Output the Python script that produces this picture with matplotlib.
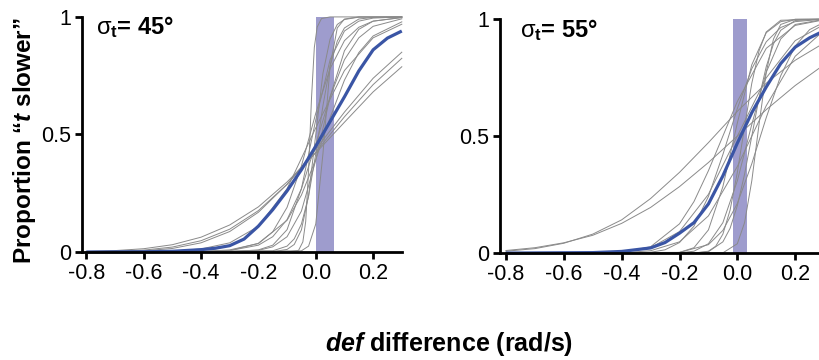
import matplotlib
matplotlib.use("Agg")
import matplotlib.pyplot as plt
from matplotlib.ticker import FixedLocator, FixedFormatter

plt.rcParams['font.family'] = ['Liberation Sans', 'DejaVu Sans']
plt.rcParams['mathtext.fontset'] = 'custom'
plt.rcParams['mathtext.rm'] = 'Liberation Sans'
plt.rcParams['mathtext.bf'] = 'Liberation Sans:bold'
plt.rcParams['mathtext.it'] = 'Liberation Sans:italic:bold'

# ── data ────────────────────────────────────────────────────────────────────
xticks = [-0.8, -0.6, -0.4, -0.2, 0.0, 0.2]
xticklabels = ['-0.8', '-0.6', '-0.4', '-0.2', '0.0', '0.2']
yticks = [0, 0.5, 1]
yticklabels = ['0', '0.5', '1']
titles = ['45°', '55°']
bands = [(0.0, 0.065), (-0.015, 0.035)]

# panel 1 (sigma_t = 45 deg): individual observers
p1_g1_x = [-0.8, -0.1, -0.06, -0.045, -0.035, -0.025, -0.015, -0.005, 0.005, 0.02, 0.05, 0.3]
p1_g1_y = [0, 0, 0.007, 0.043, 0.13, 0.35, 0.65, 0.87, 0.957, 0.993, 1.0, 1.0]
p1_g2_x = [-0.8, -0.15, -0.1, -0.075, -0.05, -0.025, 0, 0.025, 0.05, 0.075, 0.1, 0.15, 0.3]
p1_g2_y = [0, 0.001, 0.011, 0.032, 0.094, 0.24, 0.5, 0.76, 0.906, 0.968, 0.989, 0.999, 1.0]
p1_g3_x = [-0.8, -0.15, -0.1, -0.075, -0.05, -0.025, 0, 0.025, 0.05, 0.075, 0.1, 0.15, 0.2, 0.3]
p1_g3_y = [0, 0.005, 0.025, 0.056, 0.119, 0.237, 0.417, 0.622, 0.791, 0.897, 0.953, 0.991, 0.998, 1.0]
p1_g4_x = [-0.8, -0.3, -0.2, -0.15, -0.1, -0.05, 0, 0.05, 0.1, 0.15, 0.2, 0.3]
p1_g4_y = [0, 0.001, 0.009, 0.029, 0.095, 0.269, 0.562, 0.818, 0.94, 0.982, 0.995, 1.0]
p1_g5_x = [-0.8, -0.3, -0.2, -0.15, -0.1, -0.05, 0, 0.05, 0.1, 0.15, 0.2, 0.3]
p1_g5_y = [0, 0.001, 0.007, 0.022, 0.065, 0.174, 0.39, 0.66, 0.856, 0.947, 0.982, 0.998]
p1_g6_x = [-0.8, -0.4, -0.3, -0.2, -0.15, -0.1, -0.05, 0, 0.05, 0.1, 0.15, 0.2, 0.3]
p1_g6_y = [0, 0.001, 0.006, 0.037, 0.086, 0.19, 0.366, 0.59, 0.78, 0.899, 0.956, 0.982, 0.997]
p1_g7_x = [-0.8, -0.4, -0.3, -0.2, -0.15, -0.1, -0.05, 0, 0.05, 0.1, 0.15, 0.2, 0.3]
p1_g7_y = [0, 0.001, 0.006, 0.029, 0.065, 0.138, 0.269, 0.459, 0.66, 0.818, 0.911, 0.96, 0.992]
p1_g8_x = [-0.8, -0.5, -0.4, -0.3, -0.2, -0.1, -0.05, 0, 0.05, 0.1, 0.15, 0.2, 0.3]
p1_g8_y = [0, 0.0005, 0.002, 0.009, 0.036, 0.135, 0.242, 0.394, 0.571, 0.731, 0.848, 0.919, 0.979]
p1_g9_x = [-0.8, -0.7, -0.6, -0.5, -0.4, -0.3, -0.2, -0.1, 0, 0.1, 0.2, 0.3]
p1_g9_y = [0.0004, 0.0015, 0.005, 0.015, 0.039, 0.087, 0.169, 0.288, 0.436, 0.595, 0.739, 0.85]
p1_g10_x = [-0.8, -0.7, -0.6, -0.5, -0.4, -0.3, -0.2, -0.1, 0, 0.1, 0.2, 0.3]
p1_g10_y = [0.001, 0.003, 0.008, 0.021, 0.048, 0.097, 0.176, 0.288, 0.425, 0.575, 0.712, 0.824]
p1_g11_x = [-0.8, -0.7, -0.6, -0.5, -0.4, -0.3, -0.2, -0.1, 0, 0.1, 0.2, 0.3]
p1_g11_y = [0.002, 0.006, 0.014, 0.031, 0.063, 0.115, 0.192, 0.298, 0.421, 0.552, 0.681, 0.788]
p1_g12_x = [-0.8, -0.6, -0.5, -0.4, -0.3, -0.2, -0.1, 0, 0.1, 0.2, 0.3]
p1_g12_y = [0, 0.001, 0.004, 0.013, 0.039, 0.109, 0.269, 0.528, 0.772, 0.911, 0.969]
p1_g13_x = [-0.8, -0.05, -0.025, 0, 0.025, 0.05, 0.075, 0.1, 0.15, 0.3]
p1_g13_y = [0, 0.005, 0.025, 0.119, 0.417, 0.791, 0.953, 0.991, 1.0, 1.0]
# panel 1 group mean
p1_mean_x = [-0.8, -0.6, -0.5, -0.4, -0.35, -0.3, -0.25, -0.2, -0.15, -0.1, -0.05, 0, 0.05, 0.1, 0.15, 0.2, 0.25, 0.3]
p1_mean_y = [0, 0.001, 0.003, 0.01, 0.016, 0.027, 0.055, 0.11, 0.18, 0.26, 0.35, 0.45, 0.555, 0.66, 0.77, 0.86, 0.91, 0.94]

# panel 2 (sigma_t = 55 deg): individual observers
p2_g1_x = [-0.8, -0.7, -0.6, -0.5, -0.4, -0.3, -0.2, -0.1, 0, 0.1, 0.2, 0.3]
p2_g1_y = [0.008, 0.019, 0.042, 0.081, 0.142, 0.233, 0.345, 0.472, 0.606, 0.726, 0.824, 0.898]
p2_g2_x = [-0.8, -0.7, -0.6, -0.5, -0.4, -0.3, -0.2, -0.1, 0, 0.1, 0.2, 0.3]
p2_g2_y = [0.011, 0.023, 0.044, 0.076, 0.127, 0.195, 0.284, 0.387, 0.5, 0.613, 0.716, 0.805]
p2_g3_x = [-0.8, -0.5, -0.4, -0.3, -0.2, -0.1, 0, 0.1, 0.2, 0.3]
p2_g3_y = [0, 0.0004, 0.004, 0.023, 0.092, 0.251, 0.5, 0.749, 0.908, 0.977]
p2_g4_x = [-0.8, -0.4, -0.3, -0.2, -0.1, 0, 0.1, 0.2, 0.3]
p2_g4_y = [0, 0.001, 0.01, 0.048, 0.159, 0.37, 0.63, 0.841, 0.952]
p2_g5_x = [-0.8, -0.4, -0.3, -0.25, -0.2, -0.15, -0.1, -0.05, 0, 0.05, 0.1, 0.15, 0.2, 0.3]
p2_g5_y = [0, 0, 0.0035, 0.014, 0.045, 0.115, 0.242, 0.421, 0.618, 0.788, 0.903, 0.964, 0.989, 1.0]
p2_g6_x = [-0.8, -0.15, -0.1, -0.05, -0.025, 0, 0.025, 0.05, 0.075, 0.1, 0.125, 0.15, 0.2, 0.3]
p2_g6_y = [0, 0.0004, 0.006, 0.048, 0.106, 0.203, 0.337, 0.5, 0.663, 0.797, 0.894, 0.952, 0.994, 1.0]
p2_g7_x = [-0.8, -0.15, -0.1, -0.075, -0.05, -0.025, 0, 0.025, 0.05, 0.075, 0.1, 0.15, 0.3]
p2_g7_y = [0, 0, 0.008, 0.029, 0.081, 0.184, 0.345, 0.54, 0.726, 0.864, 0.945, 0.995, 1.0]
p2_g8_x = [-0.8, -0.05, 0, 0.025, 0.05, 0.075, 0.1, 0.125, 0.15, 0.2, 0.3]
p2_g8_y = [0, 0.001, 0.04, 0.13, 0.309, 0.55, 0.773, 0.915, 0.977, 0.999, 1.0]
p2_g9_x = [-0.8, -0.25, -0.2, -0.15, -0.1, -0.05, 0, 0.05, 0.1, 0.15, 0.2, 0.3]
p2_g9_y = [0, 0, 0.003, 0.023, 0.099, 0.284, 0.556, 0.805, 0.942, 0.989, 0.999, 1.0]
p2_g10_x = [-0.8, -0.2, -0.15, -0.1, -0.05, 0, 0.05, 0.1, 0.15, 0.2, 0.3]
p2_g10_y = [0, 0.001, 0.008, 0.04, 0.13, 0.309, 0.55, 0.773, 0.915, 0.977, 0.999]
p2_g11_x = [-0.8, -0.2, -0.1, -0.05, 0, 0.05, 0.1, 0.15, 0.2, 0.25, 0.3]
p2_g11_y = [0, 0.003, 0.036, 0.097, 0.212, 0.382, 0.579, 0.758, 0.885, 0.955, 0.986]
p2_g12_x = [-0.8, -0.5, -0.4, -0.3, -0.2, -0.15, -0.1, -0.05, 0, 0.1, 0.2, 0.3]
p2_g12_y = [0, 0, 0.0035, 0.027, 0.125, 0.22, 0.352, 0.5, 0.648, 0.875, 0.973, 0.997]
# panel 2 group mean
p2_mean_x = [-0.8, -0.5, -0.4, -0.3, -0.25, -0.2, -0.15, -0.1, -0.05, 0, 0.05, 0.1, 0.15, 0.2, 0.25, 0.3]
p2_mean_y = [0, 0.002, 0.007, 0.022, 0.045, 0.085, 0.13, 0.21, 0.33, 0.47, 0.6, 0.71, 0.81, 0.88, 0.92, 0.95]

p1_gray = [(p1_g1_x, p1_g1_y), (p1_g2_x, p1_g2_y), (p1_g3_x, p1_g3_y), (p1_g4_x, p1_g4_y),
           (p1_g5_x, p1_g5_y), (p1_g6_x, p1_g6_y), (p1_g7_x, p1_g7_y), (p1_g8_x, p1_g8_y),
           (p1_g9_x, p1_g9_y), (p1_g10_x, p1_g10_y), (p1_g11_x, p1_g11_y),
           (p1_g12_x, p1_g12_y), (p1_g13_x, p1_g13_y)]
p2_gray = [(p2_g1_x, p2_g1_y), (p2_g2_x, p2_g2_y), (p2_g3_x, p2_g3_y), (p2_g4_x, p2_g4_y),
           (p2_g5_x, p2_g5_y), (p2_g6_x, p2_g6_y), (p2_g7_x, p2_g7_y), (p2_g8_x, p2_g8_y),
           (p2_g9_x, p2_g9_y), (p2_g10_x, p2_g10_y), (p2_g11_x, p2_g11_y),
           (p2_g12_x, p2_g12_y)]

GRAY = '#8a8a8a'
BLUE = '#3a55a5'
BAND = '#9e9ccd'

fig = plt.figure(figsize=(8.2, 3.6), dpi=100)
ax1 = fig.add_axes([0.100, 0.300, 0.390, 0.653])
ax2 = fig.add_axes([0.610, 0.297, 0.395, 0.650])

panels = [(ax1, p1_gray, (p1_mean_x, p1_mean_y), -0.815, 0.045),
          (ax2, p2_gray, (p2_mean_x, p2_mean_y), -0.820, 0.062)]

for k, (ax, grays, mean, x0, tx) in enumerate(panels):
    ax.axvspan(bands[k][0], bands[k][1], ymin=0, ymax=1, color=BAND, lw=0, zorder=1)
    for gx, gy in grays:
        ax.plot(gx, gy, color=GRAY, lw=0.7, zorder=2, clip_on=False)
    ax.plot(mean[0], mean[1], color=BLUE, lw=2.3, zorder=3, clip_on=False,
            solid_capstyle='butt')
    ax.set_xlim(x0, 0.3)
    ax.set_ylim(0, 1)
    for s in ['top', 'right']:
        ax.spines[s].set_visible(False)
    for s in ['left', 'bottom']:
        ax.spines[s].set_linewidth(2.0)
        ax.spines[s].set_zorder(4)
    ax.xaxis.set_major_locator(FixedLocator(xticks))
    ax.xaxis.set_major_formatter(FixedFormatter(xticklabels))
    ax.yaxis.set_major_locator(FixedLocator(yticks))
    ax.yaxis.set_major_formatter(FixedFormatter(yticklabels))
    ax.tick_params(direction='out', length=5, width=2.0, labelsize=15.5, pad=3)
    # sigma_t label: upright regular sigma with bold subscript, bold value
    ax.text(tx, 0.925, r'$\mathrm{\sigma}_{\mathbf{t}}$= ' + titles[k],
            transform=ax.transAxes, fontsize=17, fontweight='bold',
            va='baseline', ha='left')

fig.text(0.030, 0.61, 'Proportion “$\\mathit{t}$ slower”', rotation=90,
         fontsize=17.5, fontweight='bold', ha='center', va='center')
fig.text(0.547, 0.045, '$\\mathit{def}$ difference (rad/s)',
         fontsize=18, fontweight='bold', ha='center', va='center')

fig.savefig('out.png', dpi=100, facecolor='white')
